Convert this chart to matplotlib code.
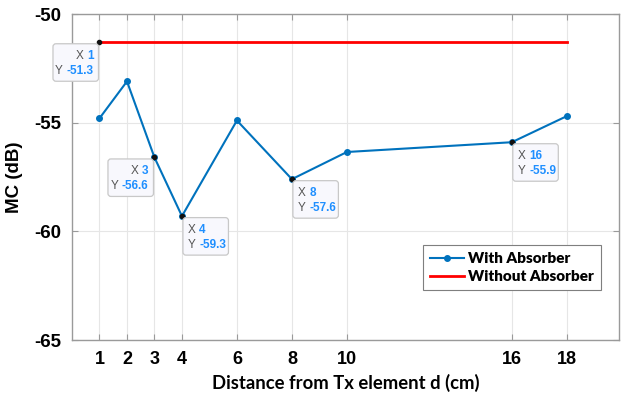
import numpy as np
import matplotlib
matplotlib.use('agg')
import matplotlib.pyplot as plt
from matplotlib.patches import FancyBboxPatch
from matplotlib.transforms import ScaledTranslation

plt.rcParams['font.family'] = 'Liberation Sans'
plt.rcParams['axes.unicode_minus'] = False

# measured coupling vs. distance
dist_cm = [1, 2, 3, 4, 6, 8, 10, 16, 18]
mc_with = [-54.8, -53.1, -56.6, -59.3, -54.9, -57.6, -56.35, -55.9, -54.7]
mc_without = [-51.3, -51.3]
dist_without = [1, 18]

x_ticks = [1, 2, 3, 4, 6, 8, 10, 16, 18]
y_ticks = [-65, -60, -55, -50]

# data tips: (x, y, side the box sits on)
tips = [(1, -51.3, 'left'), (3, -56.6, 'left'), (4, -59.3, 'right'),
        (8, -57.6, 'right'), (16, -55.9, 'right')]

fig = plt.figure(figsize=(6.25, 3.98), dpi=100)
ax = fig.add_axes([72 / 625, 1 - 340 / 398, (619 - 72) / 625, (340 - 14) / 398])

ax.plot(dist_cm, mc_with, color='#0072BD', lw=1.5, marker='o', ms=4,
        label='With Absorber')
ax.plot(dist_without, mc_without, color='#FF0000', lw=2, label='Without Absorber')

ax.set_xlim(0, 19.9)
ax.set_ylim(-65, -50)
ax.set_xticks(x_ticks)
ax.set_yticks(y_ticks)
ax.set_xticklabels([str(v) for v in x_ticks], fontweight='bold', fontsize=13)
ax.set_yticklabels([str(v) for v in y_ticks], fontweight='bold', fontsize=13.5)
ax.grid(True, color='#e6e6e6', lw=0.8)
ax.set_axisbelow(True)
for s in ax.spines.values():
    s.set_color('#9a9a9a')
    s.set_linewidth(1.0)
ax.tick_params(direction='in', length=4, color='#9a9a9a', top=True, right=True,
               pad=8)

ax.set_xlabel('Distance from Tx element d (cm)', fontsize=13.3, fontweight='bold',
              family='Lato', labelpad=4)
ax.set_ylabel('MC (dB)', fontsize=13.5, fontweight='bold', labelpad=8)

leg = ax.legend(loc='lower right', bbox_to_anchor=(0.967, 0.153), borderaxespad=0,
                fancybox=False, edgecolor='#7f7f7f', framealpha=1,
                prop={'family': 'Lato', 'weight': 'heavy', 'size': 11},
                handlelength=2.2, handletextpad=0.3, borderpad=0.45,
                labelspacing=0.35)
leg.get_frame().set_linewidth(0.8)

# data tip boxes
bw, bh = 0.455, 0.375
for tx, ty, side in tips:
    tr = fig.dpi_scale_trans + ScaledTranslation(tx, ty, ax.transData)
    ax.plot([tx], [ty], 'o', color='#111111', ms=3, zorder=6)
    if side == 'left':
        x0 = -bw - 0.01
    else:
        x0 = 0.01
    y0 = -bh - 0.015
    ax.add_patch(FancyBboxPatch((x0, y0), bw, bh, boxstyle='round,pad=0,rounding_size=0.03',
                                transform=tr, fc='#f8f8fd', ec='#c8c8c8', lw=0.9,
                                zorder=7, clip_on=False))
    xs = '%d' % tx
    ys = '%.1f' % ty
    row1 = y0 + bh - 0.12
    row2 = y0 + bh - 0.27
    vkw = dict(color='#1f8fff', fontsize=8.5, fontweight='bold', zorder=8)
    lkw = dict(color='#555555', fontsize=8.5, zorder=8)
    if side == 'left':
        xr = x0 + bw - 0.05
        v1 = ax.text(xr, row1, xs, transform=tr, ha='right', va='center',
                     clip_on=False, **vkw)
        v2 = ax.text(xr, row2, ys, transform=tr, ha='right', va='center',
                     clip_on=False, **vkw)
        ax.annotate('X', xy=(0, 0.5), xycoords=v1, xytext=(-2.5, 0),
                    textcoords='offset points', ha='right', va='center',
                    annotation_clip=False, **lkw)
        ax.annotate('Y', xy=(0, 0.5), xycoords=v2, xytext=(-2.5, 0),
                    textcoords='offset points', ha='right', va='center',
                    annotation_clip=False, **lkw)
    else:
        xl = x0 + 0.05
        l1 = ax.text(xl, row1, 'X', transform=tr, ha='left', va='center',
                     clip_on=False, **lkw)
        l2 = ax.text(xl, row2, 'Y', transform=tr, ha='left', va='center',
                     clip_on=False, **lkw)
        ax.annotate(xs, xy=(1, 0.5), xycoords=l1, xytext=(2.5, 0),
                    textcoords='offset points', ha='left', va='center',
                    annotation_clip=False, **vkw)
        ax.annotate(ys, xy=(1, 0.5), xycoords=l2, xytext=(2.5, 0),
                    textcoords='offset points', ha='left', va='center',
                    annotation_clip=False, **vkw)

plt.savefig('out.png', dpi=100)
plt.close()
